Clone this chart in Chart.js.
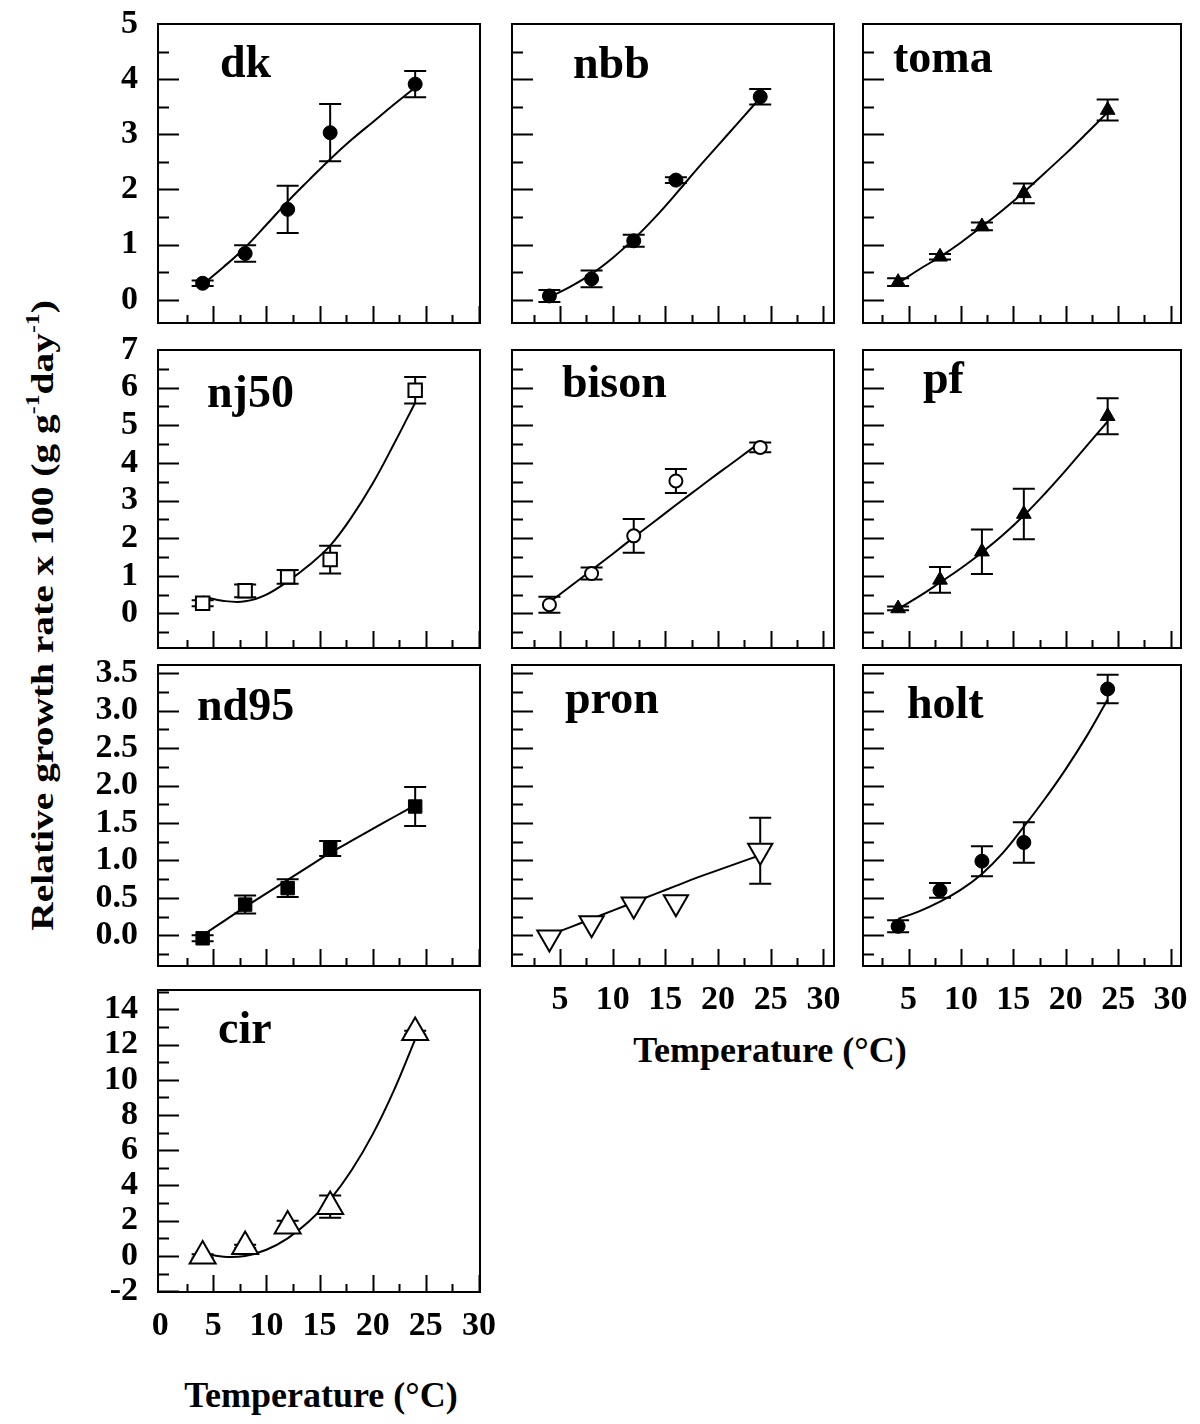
<!DOCTYPE html>
<html>
<head>
<meta charset="utf-8">
<title>Relative growth rate vs temperature</title>
<script src="https://cdn.jsdelivr.net/npm/chart.js@4.4.1/dist/chart.umd.min.js"></script>
<style>
  html, body { margin: 0; padding: 0; background: #fff; overflow: hidden; }
  body {
    width: 1200px; height: 1424px; position: relative;
    font-family: 'Liberation Serif', 'Times New Roman', serif; font-weight: bold; color: #000;
  }
  canvas { position: absolute; }
  .lbl { position: absolute; white-space: nowrap; line-height: 1; }
  .panel-name { font-size: 46px; }
  .x-title { font-size: 36px; transform: translateX(-50%); }
  #ytitle { font-size: 31px; transform-origin: center center; }
  #ytitle sup { font-size: 0.6em; line-height: 0; vertical-align: 0.75em; }
</style>
</head>
<body>
<div id="ytitle" class="lbl">Relative growth rate x 100 (g g<sup>-1</sup>day<sup>-1</sup>)</div>
<div class="lbl x-title" style="left:770px; top:1032px;">Temperature (°C)</div>
<div class="lbl x-title" style="left:321px; top:1377px;">Temperature (°C)</div>
<script>
// growth temperatures (°C) of the measurements, and x positions where the fitted curves were read
const TEMP = [4, 8, 12, 16, 24];
const FIT_TEMP = [4, 6, 8, 10, 12, 14, 16, 18, 20, 22, 24];

const DK_RGR = [0.30, 0.84, 1.64, 3.03, 3.91];
const DK_SE = [0.05, 0.15, 0.43, 0.52, 0.24];
const DK_FIT = [0.28, 0.60, 0.95, 1.36, 1.78, 2.17, 2.55, 2.90, 3.22, 3.54, 3.85];

const NBB_RGR = [0.07, 0.38, 1.07, 2.17, 3.68];
const NBB_SE = [0.11, 0.15, 0.11, 0.05, 0.14];
const NBB_FIT = [0.05, 0.24, 0.47, 0.76, 1.10, 1.49, 1.92, 2.37, 2.80, 3.23, 3.66];

const TOMA_RGR = [0.32, 0.78, 1.33, 1.93, 3.44];
const TOMA_SE = [0.07, 0.05, 0.07, 0.18, 0.19];
const TOMA_FIT = [0.30, 0.55, 0.78, 1.04, 1.33, 1.63, 1.95, 2.30, 2.65, 3.02, 3.40];

const NJ50_RGR = [0.27, 0.60, 0.97, 1.43, 5.93];
const NJ50_SE = [0.08, 0.17, 0.18, 0.37, 0.35];
const NJ50_FIT = [0.45, 0.33, 0.32, 0.50, 0.85, 1.28, 1.80, 2.55, 3.45, 4.50, 5.60];

const BISON_RGR = [0.23, 1.06, 2.06, 3.52, 4.41];
const BISON_SE = [0.21, 0.16, 0.45, 0.32, 0.13];
const BISON_FIT = [0.30, 0.72, 1.15, 1.58, 2.02, 2.45, 2.88, 3.30, 3.72, 4.13, 4.55];

const PF_RGR = [0.13, 0.89, 1.64, 2.64, 5.24];
const PF_SE = [0.05, 0.34, 0.59, 0.67, 0.48];
const PF_FIT = [0.12, 0.45, 0.82, 1.20, 1.62, 2.08, 2.60, 3.18, 3.80, 4.45, 5.10];

const ND95_RGR = [-0.04, 0.41, 0.63, 1.16, 1.72];
const ND95_SE = [0.04, 0.12, 0.12, 0.10, 0.26];
const ND95_FIT = [0.00, 0.19, 0.38, 0.56, 0.74, 0.92, 1.10, 1.26, 1.42, 1.58, 1.74];

const PRON_RGR = [-0.03, 0.16, 0.41, 0.44, 1.13];
const PRON_SE = [0.00, 0.00, 0.00, 0.00, 0.44];
const PRON_FIT = [0.00, 0.11, 0.22, 0.33, 0.44, 0.55, 0.66, 0.77, 0.87, 0.97, 1.07];

const HOLT_RGR = [0.12, 0.60, 0.99, 1.24, 3.29];
const HOLT_SE = [0.08, 0.10, 0.20, 0.27, 0.19];
const HOLT_FIT = [0.22, 0.32, 0.45, 0.61, 0.82, 1.10, 1.45, 1.82, 2.22, 2.66, 3.15];

const CIR_RGR = [0.00, 0.53, 1.70, 2.80, 12.68];
const CIR_SE = [0.10, 0.10, 0.30, 0.63, 0.10];
const CIR_FIT = [0.15, -0.05, 0.00, 0.35, 1.00, 1.95, 3.20, 4.85, 6.90, 9.40, 12.30];

// tick labels
const X_TICKS = [0, 5, 10, 15, 20, 25, 30];
const Y_TICKS_ROW1 = [0, 1, 2, 3, 4, 5];
const Y_TICKS_ROW2 = [0, 1, 2, 3, 4, 5, 6, 7];
const Y_TICKS_ROW3 = [0, 0.5, 1, 1.5, 2, 2.5, 3, 3.5];
const Y_TICKS_ROW4 = [-2, 0, 2, 4, 6, 8, 10, 12, 14];

// page layout of the grid of panels
const COLS = [
  { left: 158, right: 480, min: -0.2, max: 30.1, padL: 158, padT: 44 },
  { left: 512, right: 834, min: 0.45, max: 31.0, padL: 20, padT: 24 },
  { left: 863, right: 1181, min: 0.65, max: 31.0, padL: 20, padT: 24 }
];
const ROWS = [
  { top: 24, bottom: 323, min: -0.42, max: 5.0, ticks: Y_TICKS_ROW1, minor: 0.5, dec: 0 },
  { top: 350, bottom: 648, min: -0.92, max: 7.0, ticks: Y_TICKS_ROW2, minor: 0.5, dec: 0 },
  { top: 665, bottom: 966, min: -0.41, max: 3.61, ticks: Y_TICKS_ROW3, minor: 0.25, dec: 1 },
  { top: 990, bottom: 1292, min: -2.05, max: 15.1, ticks: Y_TICKS_ROW4, minor: 1, dec: 0 }
];
const PAD_B = 60;

const MARKERS = {
  dot:     { style: 'circle', radius: 7, fill: '#000', rotation: 0 },
  ring:    { style: 'circle', radius: 6.5, fill: '#fff', rotation: 0 },
  tri:     { style: 'triangle', radius: 8.5, fill: '#000', rotation: 0 },
  box:     { style: 'rect', radius: 9.5, fill: '#fff', rotation: 0 },
  block:   { style: 'rect', radius: 9.5, fill: '#000', rotation: 0 },
  bigDown: { style: 'triangle', radius: 14, fill: '#fff', rotation: 180 },
  bigUp:   { style: 'triangle', radius: 15, fill: '#fff', rotation: 0 }
};

const PANELS = [
  { name: 'dk',    row: 0, col: 0, rgr: DK_RGR,    se: DK_SE,    fit: DK_FIT,    marker: 'dot',     nameAt: [62, 53] },
  { name: 'nbb',   row: 0, col: 1, rgr: NBB_RGR,   se: NBB_SE,   fit: NBB_FIT,   marker: 'dot',     nameAt: [61, 54] },
  { name: 'toma',  row: 0, col: 2, rgr: TOMA_RGR,  se: TOMA_SE,  fit: TOMA_FIT,  marker: 'tri',     nameAt: [30, 48] },
  { name: 'nj50',  row: 1, col: 0, rgr: NJ50_RGR,  se: NJ50_SE,  fit: NJ50_FIT,  marker: 'box',     nameAt: [49, 57] },
  { name: 'bison', row: 1, col: 1, rgr: BISON_RGR, se: BISON_SE, fit: BISON_FIT, marker: 'ring',    nameAt: [50, 47] },
  { name: 'pf',    row: 1, col: 2, rgr: PF_RGR,    se: PF_SE,    fit: PF_FIT,    marker: 'tri',     nameAt: [60, 43] },
  { name: 'nd95',  row: 2, col: 0, rgr: ND95_RGR,  se: ND95_SE,  fit: ND95_FIT,  marker: 'block',   nameAt: [39, 55] },
  { name: 'pron',  row: 2, col: 1, rgr: PRON_RGR,  se: PRON_SE,  fit: PRON_FIT,  marker: 'bigDown', nameAt: [53, 48], xLabels: true },
  { name: 'holt',  row: 2, col: 2, rgr: HOLT_RGR,  se: HOLT_SE,  fit: HOLT_FIT,  marker: 'dot',     nameAt: [44, 53], xLabels: true },
  { name: 'cir',   row: 3, col: 0, rgr: CIR_RGR,   se: CIR_SE,   fit: CIR_FIT,   marker: 'bigUp',   nameAt: [60, 53], xLabels: true }
];

Chart.defaults.font.family = "'Liberation Serif', 'Times New Roman', serif";
Chart.defaults.font.weight = 'bold';
Chart.defaults.color = '#000';

const TICK_FONT = { size: 34, weight: 'bold' };

// box, inward tick marks and error bars
const framePlugin = {
  id: 'frame',
  beforeDatasetsDraw(chart) {
    const se = chart.data.datasets[0].se;
    const pts = chart.data.datasets[0].data;
    const xs = chart.scales.x, ys = chart.scales.y;
    const ctx = chart.ctx;
    ctx.save();
    ctx.strokeStyle = '#000';
    ctx.lineWidth = 2;
    ctx.beginPath();
    pts.forEach((p, i) => {
      if (!se[i]) return;
      const px = xs.getPixelForValue(p.x);
      const y1 = ys.getPixelForValue(p.y + se[i]);
      const y2 = ys.getPixelForValue(p.y - se[i]);
      ctx.moveTo(px, y1); ctx.lineTo(px, y2);
      ctx.moveTo(px - 11, y1); ctx.lineTo(px + 11, y1);
      ctx.moveTo(px - 11, y2); ctx.lineTo(px + 11, y2);
    });
    ctx.stroke();
    ctx.restore();
  },
  afterDraw(chart, args, opts) {
    const { left, right, top, bottom } = chart.chartArea;
    const xs = chart.scales.x, ys = chart.scales.y;
    const ctx = chart.ctx;
    ctx.save();
    ctx.strokeStyle = '#000';
    ctx.lineWidth = 2;
    ctx.strokeRect(left, top, right - left, bottom - top);
    ctx.beginPath();
    for (let k = 1; k * 2.5 < xs.max; k++) {
      const v = k * 2.5;
      if (v <= xs.min) continue;
      const px = Math.round(xs.getPixelForValue(v)) + 0.5;
      const len = k % 2 === 0 ? 17 : 8;
      ctx.moveTo(px, bottom); ctx.lineTo(px, bottom - len);
    }
    const step = opts.minor;
    for (let k = Math.ceil(ys.min / step); k * step < ys.max - 1e-6; k++) {
      const py = Math.round(ys.getPixelForValue(k * step)) + 0.5;
      const len = k % 2 === 0 ? 21 : 11;
      ctx.moveTo(left, py); ctx.lineTo(left + len, py);
    }
    ctx.stroke();
    ctx.restore();
  }
};

function makePanel(p) {
  const col = COLS[p.col], row = ROWS[p.row];
  const mk = MARKERS[p.marker];
  const boxW = col.right - col.left, boxH = row.bottom - row.top;
  const padR = p.xLabels ? 36 : 18;

  const canvas = document.createElement('canvas');
  canvas.width = col.padL + boxW + padR;
  canvas.height = col.padT + boxH + PAD_B;
  canvas.style.left = (col.left - col.padL) + 'px';
  canvas.style.top = (row.top - col.padT) + 'px';
  canvas.style.width = canvas.width + 'px';
  canvas.style.height = canvas.height + 'px';
  document.body.appendChild(canvas);

  const label = document.createElement('div');
  label.className = 'lbl panel-name';
  label.textContent = p.name;
  label.style.left = (col.left + p.nameAt[0]) + 'px';
  label.style.top = (row.top + p.nameAt[1] - 38.5) + 'px';
  document.body.appendChild(label);

  const showY = p.col === 0;

  new Chart(canvas, {
    type: 'scatter',
    data: {
      datasets: [
        {
          data: TEMP.map((t, i) => ({ x: t, y: p.rgr[i] })),
          se: p.se,
          showLine: false,
          pointStyle: mk.style,
          pointRadius: mk.radius,
          pointRotation: mk.rotation,
          pointBackgroundColor: mk.fill,
          pointBorderColor: '#000',
          pointBorderWidth: mk.fill === '#fff' ? 2 : 1,
          order: 1
        },
        {
          data: FIT_TEMP.map((t, i) => ({ x: t, y: p.fit[i] })),
          showLine: true,
          pointRadius: 0,
          borderColor: '#000',
          borderWidth: 2,
          tension: 0.4,
          fill: false,
          order: 2
        }
      ]
    },
    options: {
      responsive: false,
      animation: false,
      events: [],
      layout: { padding: { top: col.padT, right: padR, left: 0, bottom: 0 } },
      plugins: {
        legend: { display: false },
        tooltip: { enabled: false },
        frame: { minor: row.minor }
      },
      scales: {
        x: {
          type: 'linear',
          min: col.min,
          max: col.max,
          grid: { display: false, drawTicks: false },
          border: { display: false },
          ticks: {
            display: !!p.xLabels,
            padding: 14,
            font: TICK_FONT,
            color: '#000',
            maxRotation: 0,
            autoSkip: false,
            callback: v => String(v)
          },
          afterBuildTicks: s => {
            s.ticks = X_TICKS.filter(v => v >= s.min && v <= s.max).map(v => ({ value: v }));
          },
          afterFit: s => { s.height = PAD_B; }
        },
        y: {
          type: 'linear',
          min: row.min,
          max: row.max,
          grid: { display: false, drawTicks: false },
          border: { display: false },
          ticks: {
            display: showY,
            padding: 20,
            font: TICK_FONT,
            color: '#000',
            autoSkip: false,
            callback: v => v.toFixed(row.dec)
          },
          afterBuildTicks: s => {
            s.ticks = row.ticks.map(v => ({ value: v }));
          },
          afterFit: s => { s.width = col.padL; }
        }
      }
    },
    plugins: [framePlugin]
  });
}

PANELS.forEach(makePanel);

// rotated y title, stretched to the length it has in the figure
const yt = document.getElementById('ytitle');
const yw = yt.offsetWidth, yh = yt.offsetHeight;
yt.style.left = (42 - yw / 2) + 'px';
yt.style.top = (615 - yh / 2) + 'px';
yt.style.transform = 'rotate(-90deg) scaleX(' + (630 / yw).toFixed(3) + ')';
</script>
</body>
</html>
